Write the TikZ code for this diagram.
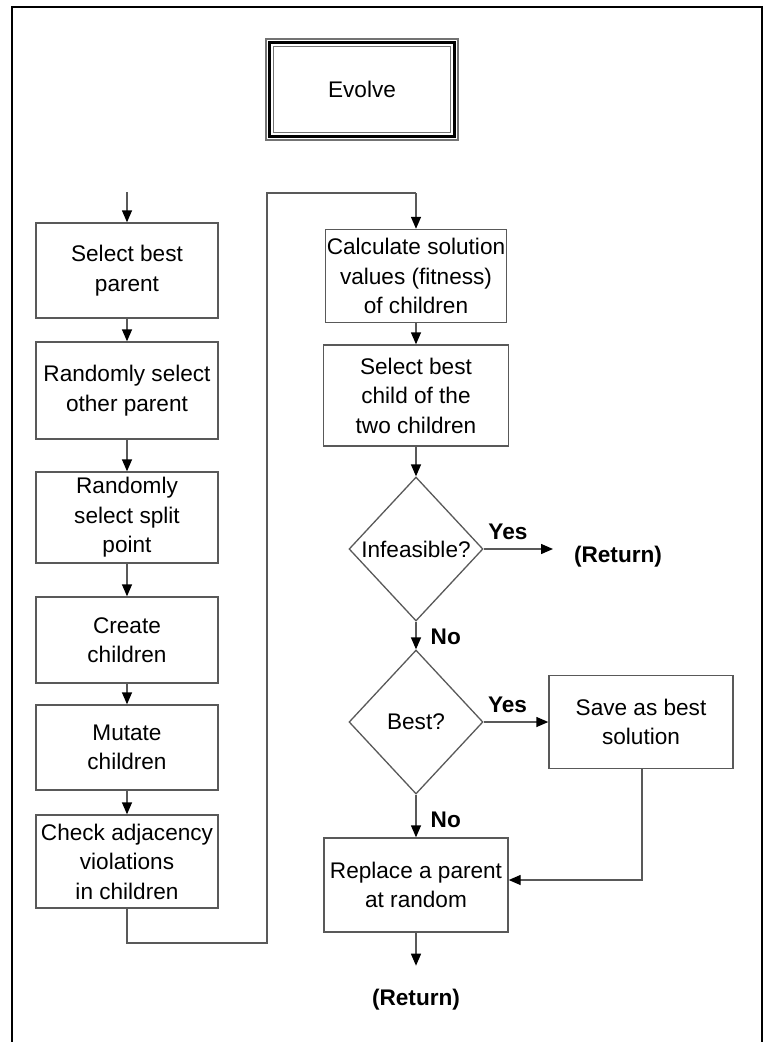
\documentclass[tikz,border=0pt]{standalone}
\usepackage{fontspec}
\setmainfont{Liberation Sans}
\usetikzlibrary{arrows.meta,calc,shapes.geometric}
\begin{document}
\begin{tikzpicture}[x=1pt,y=-1pt,
  line/.style={draw=black!65, line width=1.4pt},
  arr/.style={line, -{Triangle[length=12pt,width=10pt,color=black]}},
  box/.style={draw=black!65, line width=1.4pt, align=center, inner sep=0pt,
    font=\fontsize{22.6}{29.5}\selectfont},
  lbox/.style={box, minimum width=182pt},
  dec/.style={diamond, draw=black!65, line width=1.3pt, inner sep=0pt,
    minimum width=134pt, minimum height=144pt, font=\fontsize{22.6}{29}\selectfont},
  lbl/.style={font=\bfseries\fontsize{22.6}{26}\selectfont, inner sep=0pt}
]
\useasboundingbox (0,0) rectangle (764,1042);
% page frame, open at the bottom
\draw[line width=2pt] (12,1042) -- (12,7) -- (762,7) -- (762,1042);

% title with triple border
\node[draw=black!55, line width=1.5pt, minimum width=192pt, minimum height=101pt,
  font=\fontsize{22.6}{26}\selectfont] (evolve) at (362,89.5) {Evolve};
\draw[line width=3pt] ($(evolve.north west)+(4.5,4.5)$) rectangle ($(evolve.south east)+(-4.5,-4.5)$);
\draw[draw=black!55, line width=1.3pt] ($(evolve.north west)+(8,8)$) rectangle ($(evolve.south east)+(-8,-8)$);

% left column
\coordinate (start) at (127,192);
\node[lbox, minimum height=95pt] (b1) at (127,270.5) {Select best\\parent};
\node[lbox, minimum height=97pt] (b2) at (127,390.5) {Randomly select\\other parent};
\node[lbox, minimum height=91pt] (b3) at (127,517.5) {Randomly\\select split\\point};
\node[lbox, minimum height=86pt] (b4) at (127,640) {Create\\children};
\node[lbox, minimum height=85pt] (b5) at (127,747.5) {Mutate\\children};
\node[lbox, minimum height=93pt] (b6) at (127,861.5) {Check adjacency\\violations\\in children};

\draw[arr] (start) -- (b1);
\draw[arr] (b1) -- (b2);
\draw[arr] (b2) -- (b3);
\draw[arr] (b3) -- (b4);
\draw[arr] (b4) -- (b5);
\draw[arr] (b5) -- (b6);

% right column
\node[box, minimum width=181pt, minimum height=93pt] (c1) at (416,276) {Calculate solution\\values (fitness)\\of children};
\node[box, minimum width=185pt, minimum height=101pt] (c2) at (416,395.5) {Select best\\child of the\\two children};
\node[dec] (d1) at (416,549) {Infeasible?};
\node[dec] (d2) at (416,722) {Best?};
\node[box, minimum width=184pt, minimum height=93pt] (save) at (641,722) {Save as best\\solution};
\node[box, minimum width=184pt, minimum height=94pt] (repl) at (416,885) {Replace a parent\\at random};
\node[lbl] (ret1) at (618,557) {(Return)};
\node[lbl] (ret2) at (416,1000) {(Return)};

% loop from the left column over to the right column
\coordinate (lb) at (127,943);
\coordinate (lr) at (267,943);
\coordinate (tr) at (267,193);
\coordinate (tc) at (416,193);
\draw[line] (b6.south) -- (lb) -- (lr) -- (tr) -- (tc);
\draw[arr] (tc) -- (c1.north);

\draw[arr] (c1) -- (c2);
\draw[arr] (c2) -- (d1);
\coordinate (r1) at (553,549);
\draw[arr] (d1.east) -- node[lbl, above=9pt, pos=0.35] {Yes} (r1);
\draw[arr] (d1.south) -- node[lbl, right=14pt, pos=0.55] {No} (d2.north);
\draw[arr] (d2.east) -- node[lbl, above=9pt, pos=0.37] {Yes} (save.west);
\draw[arr] (d2.south) -- node[lbl, right=14pt, pos=0.6] {No} (repl.north);
\coordinate (sb) at (642,880);
\draw[arr] (save.south -| sb) -- (sb) -- (repl.east |- sb);
\draw[arr] (repl.south) -- ($(repl.south)+(0,33)$) coordinate (rend);
\end{tikzpicture}
\end{document}
